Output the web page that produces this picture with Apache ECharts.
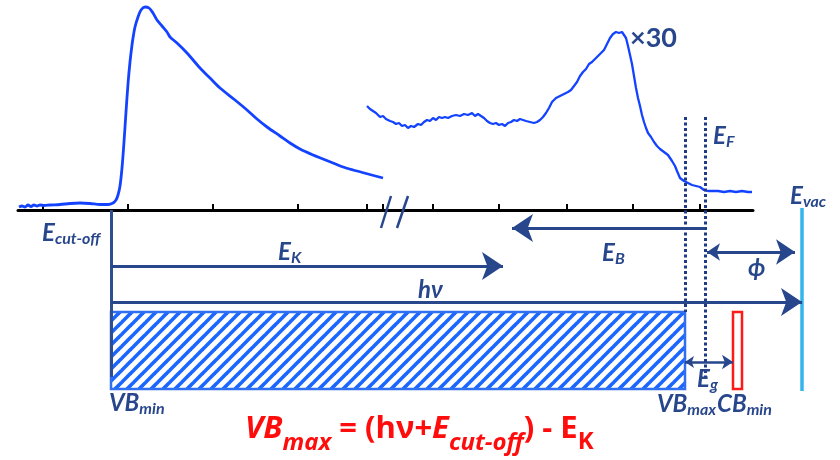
<!DOCTYPE html>
<html>
<head>
<meta charset="utf-8">
<script src="https://cdn.jsdelivr.net/npm/echarts@6/dist/echarts.min.js"></script>
<style>html,body{margin:0;padding:0;background:#fff;}#c{width:840px;height:460px;}</style>
</head>
<body>
<div id="c"></div>
<script>
// ---------- data (schematic units: x = energy position, y = intensity) ----------
const xRange = [18, 753];
const yRange = [-250, 210];
const tickPositions = [43, 128, 213, 298, 367, 383, 433, 499, 567, 633, 700];

const cutoffSpectrum = [[19,3],[22,4],[25,3],[28,5],[31,3.5],[34,5],[37,4],[40,5],[44,4.5],[50,5],[60,5.5],[70,6.5],[80,7],[90,6.5],[100,5.5],[108,5.5],[113,7],[116,10],[118,15],[120,24],[122,42],[124,68],[126,98],[128,126],[130,148],[132,165],[133,172],[135,183],[138,193],[141,200],[145,203],[149,202],[153,197],[157,190],[162,184],[167,178],[170,173],[177,167],[187,157],[200,142],[210,132],[220,122],[235,110],[247,100],[257,91],[267,83],[280,74],[290,67],[300,61],[313,55],[323,51],[333,47],[343,43],[353,40],[368,36],[383,32]];

const valenceSpectrum = [[367,104],[370,101],[373,99],[376,97],[380,93],[383,94],[386,91],[390,89],[393,88],[396,86],[399,87],[402,84],[405,85],[408,82],[411,84],[414,83],[418,86],[421,85],[424,88],[427,90],[430,89],[433,92],[436,90],[439,93],[442,92],[445,93],[448,92],[452,94],[456,95],[460,94],[464,96],[468,95],[472,97],[475,94],[478,96],[481,94],[484,92],[487,89],[490,87],[493,86],[496,87],[499,85],[502,86],[505,84],[508,87],[511,88],[514,90],[517,89],[520,91],[523,90],[526,89],[530,88],[534,87],[537,88],[540,90],[543,93],[546,97],[549,102],[552,108],[556,112],[560,114],[564,116],[568,118],[571,120],[574,124],[577,128],[580,134],[583,138],[586,141],[589,146],[592,148],[595,151],[598,154],[601,157],[604,160],[607,166],[610,172],[613,176],[616,178],[619,177],[622,178],[624,177],[626,172],[628,164],[630,155],[632,146],[634,134],[636,122],[638,112],[640,104],[642,95],[644,88],[646,82],[648,77],[651,73],[654,68],[657,64],[660,61],[664,58],[668,55],[672,49],[675,44],[677,39],[680,32],[684,29],[688,27],[692,25],[696,24],[700,23],[704,20],[708,19],[713,19],[718,19],[724,18],[730,19],[736,18],[742,19],[748,18],[752,18]];

// energy levels / arrows: [x1, y1, x2, y2]
const cutoffLevel = [111, 0, 111, -167];
const kineticArrow = [111, -56, 503, -56];
const photonArrow = [111, -92, 802, -92];
const bindingArrow = [705, -18, 512, -18];
const workFunctionArrow = [707, -42, 795, -42];
const gapArrow = [685, -152, 733, -152];
const vbMaxLevel = [685, 93, 685, -102];
const fermiLevel = [705, 93, 705, -168];
const vacuumLevel = [802, 2, 802, -181];
const axisBreakA = [391, 14, 381, -18];
const axisBreakB = [408, 14, 397, -18];
// bands: [x0, yTop, x1, yBottom]
const valenceBand = [111, -102, 685, -179];
const conductionBand = [733, -102, 742, -179];

// text labels: [x, y, rich text]
const labelTexts = [
  [630, 172, '{n|×30}'],
  [713, 74, '{E|E}{s|F}'],
  [42, -23, '{E|E}{s|cut-off}'],
  [278, -42, '{E|E}{s|K}'],
  [602, -43, '{E|E}{s|B}'],
  [748, -58, '{E|ϕ}'],
  [418, -80, '{E|hν}'],
  [790, 14, '{E|E}{s|vac}'],
  [697, -169, '{E|E}{s|g}'],
  [109, -193, '{E|VB}{s|min}'],
  [657, -194, '{E|VB}{s|max}'],
  [717, -194, '{E|CB}{s|min}'],
  [245, -220, '{rI|VB}{rs|max}{rN| = (hν+}{rI|E}{rs|cut-off}{rN|) - E}{rsn|K}']
];

// ---------- styles ----------
const navy = '#27468c';
const curveBlue = '#1443ff';
const red = '#ff0d0d';
const font = 'Lato, "Open Sans", sans-serif';
const redFont = '"Open Sans", Lato, sans-serif';

function hatchPattern() {
  const c = document.createElement('canvas');
  c.width = 12; c.height = 12;
  const ctx = c.getContext('2d');
  ctx.fillStyle = '#ffffff';
  ctx.fillRect(0, 0, 12, 12);
  ctx.strokeStyle = '#1a66ff';
  ctx.lineWidth = 3.6;
  [[-6, 6, 6, -6], [0, 12, 12, 0], [6, 18, 18, 6]].forEach(l => {
    ctx.beginPath(); ctx.moveTo(l[0], l[1]); ctx.lineTo(l[2], l[3]); ctx.stroke();
  });
  return c;
}
const hatch = hatchPattern();

function seg(a) { return { coords: [[a[0], a[1]], [a[2], a[3]]] }; }
function linesSeries(items, color, width, symbol, symbolSize, type) {
  return {
    type: 'lines', coordinateSystem: 'cartesian2d', clip: false, silent: true,
    symbol: symbol || ['none', 'none'], symbolSize: symbolSize || 10,
    lineStyle: { color: color, width: width, type: type || 'solid', opacity: 1, curveness: 0 },
    data: items.map(seg), z: 5
  };
}
function bandSeries(band, fill, stroke, lw) {
  return {
    type: 'custom', coordinateSystem: 'cartesian2d', clip: false, silent: true, z: 3,
    data: [band],
    renderItem: function (params, api) {
      const p0 = api.coord([api.value(0), api.value(1)]);
      const p1 = api.coord([api.value(2), api.value(3)]);
      return {
        type: 'rect',
        shape: { x: p0[0], y: p0[1], width: p1[0] - p0[0], height: p1[1] - p0[1] },
        style: { fill: fill, stroke: stroke, lineWidth: lw }
      };
    }
  };
}

const chart = echarts.init(document.getElementById('c'), null, { renderer: 'canvas' });
const option = {
  animation: false,
  backgroundColor: '#ffffff',
  grid: { left: 18, right: 87, top: 0, bottom: 0, containLabel: false },
  xAxis: {
    type: 'value', min: xRange[0], max: xRange[1],
    axisLine: { show: true, onZero: true, lineStyle: { color: '#000', width: 3 } },
    axisTick: { show: true, inside: true, length: 6, customValues: tickPositions, lineStyle: { color: '#000', width: 2 } },
    axisLabel: { show: false }, splitLine: { show: false }
  },
  yAxis: {
    type: 'value', min: yRange[0], max: yRange[1], show: false,
    axisLine: { show: false }, splitLine: { show: false }
  },
  series: [
    bandSeries(valenceBand, { image: hatch, repeat: 'repeat' }, '#2f6ff0', 2.5),
    bandSeries(conductionBand, '#ffffff', '#ff1a1a', 2.5),
    {
      type: 'line', data: cutoffSpectrum, showSymbol: false, smooth: 0.3, clip: false, z: 4,
      lineStyle: { color: curveBlue, width: 2.8 }
    },
    {
      type: 'line', data: valenceSpectrum, showSymbol: false, smooth: false, clip: false, z: 4,
      lineStyle: { color: curveBlue, width: 2.3 }
    },
    linesSeries([cutoffLevel], '#2f4e90', 3),
    linesSeries([vbMaxLevel, fermiLevel], '#1f3b85', 3, null, null, [3, 2.5]),
    linesSeries([vacuumLevel], '#35b6ea', 3.5),
    linesSeries([axisBreakA, axisBreakB], navy, 2.5),
    linesSeries([kineticArrow, photonArrow, bindingArrow], navy, 3, ['none', 'arrow'], [15, 21]),
    linesSeries([workFunctionArrow], navy, 3, ['arrow', 'arrow'], [13, 19]),
    linesSeries([gapArrow], navy, 2.5, ['arrow', 'arrow'], [9, 11]),
    {
      type: 'scatter', symbolSize: 0, clip: false, silent: true, z: 10,
      itemStyle: { opacity: 1 },
      data: labelTexts.map(t => ({ value: [t[0], t[1]], label: { formatter: t[2] } })),
      label: {
        show: true, position: 'right', distance: 0, opacity: 1,
        fontFamily: font,
        rich: {
          n: { fontSize: 27, fontWeight: 'bold', color: navy, fontFamily: font, lineHeight: 28 },
          E: { fontSize: 24, fontWeight: 'bold', fontStyle: 'italic', color: navy, fontFamily: font, lineHeight: 24, verticalAlign: 'top' },
          s: { fontSize: 16, fontWeight: 'bold', fontStyle: 'italic', color: navy, fontFamily: font, lineHeight: 16, verticalAlign: 'top', padding: [10, 0, 0, 0] },
          rI: { fontSize: 31, fontWeight: 'bold', fontStyle: 'italic', color: red, fontFamily: redFont, lineHeight: 32, verticalAlign: 'top' },
          rN: { fontSize: 31, fontWeight: 'bold', color: red, fontFamily: redFont, lineHeight: 32, verticalAlign: 'top' },
          rs: { fontSize: 24, fontWeight: 'bold', fontStyle: 'italic', color: red, fontFamily: redFont, lineHeight: 22, verticalAlign: 'top', padding: [17, 0, 0, 0] },
          rsn: { fontSize: 24, fontWeight: 'bold', color: red, fontFamily: redFont, lineHeight: 22, verticalAlign: 'top', padding: [16, 0, 0, 0] }
        }
      }
    }
  ]
};
chart.setOption(option);
</script>
</body>
</html>
